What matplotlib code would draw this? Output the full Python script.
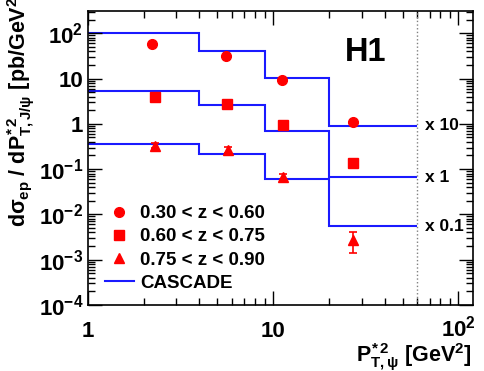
import numpy as np
import matplotlib
matplotlib.use('Agg')
import matplotlib.pyplot as plt
from matplotlib.ticker import FixedLocator, LogLocator, FuncFormatter, NullFormatter

plt.rcParams['font.family'] = ['Liberation Sans', 'DejaVu Sans']
plt.rcParams['font.weight'] = 'bold'
plt.rcParams['mathtext.fontset'] = 'custom'
plt.rcParams['mathtext.rm'] = 'Liberation Sans:bold'
plt.rcParams['mathtext.it'] = 'Liberation Sans:bold'
plt.rcParams['mathtext.bf'] = 'Liberation Sans:bold'

# bin edges of the CASCADE histograms
edges = [1, 4, 9, 20, 60]
# CASCADE predictions (already scaled by x10, x1, x0.1)
casc_1 = [100, 40, 10.2, 0.9]
casc_2 = [5.4, 2.6, 0.71, 0.067]
casc_3 = [0.366, 0.22, 0.061, 0.0055]

# data points
x_1 = [2.22, 5.54, 11.2, 27.1]
y_1 = [57, 31.6, 9.3, 1.1]
x_2 = [2.29, 5.6, 11.3, 27.1]
y_2 = [3.9, 2.8, 0.95, 0.135]
x_3 = [2.31, 5.68, 11.3, 27.1]
y_3 = [0.33, 0.265, 0.068, 0.0027]
e3_lo = [0.04, 0.035, 0.01, 0.00131]
e3_hi = [0.05, 0.04, 0.012, 0.0014]

labels = ['0.30 < z < 0.60', '0.60 < z < 0.75', '0.75 < z < 0.90']
scales = ['x 10', 'x 1', 'x 0.1']

fig = plt.figure(figsize=(4.85, 3.71), dpi=100)
ax = fig.add_axes([88 / 485, 66 / 371, 385 / 485, 294 / 371])

for c in (casc_1, casc_2, casc_3):
    ax.stairs(c, edges, color='#1a1aff', lw=1.5, baseline=None)

ax.plot(x_1, y_1, 'o', color='red', ms=7, ls='')
ax.plot(x_2, y_2, 's', color='red', ms=7, ls='')
ax.errorbar(x_3, y_3, yerr=[e3_lo, e3_hi], fmt='^', color='red', ms=7,
            capsize=3, elinewidth=1.2, capthick=1.2)

ax.axvline(60, color='grey', ls=':', lw=1)

for txt, c in zip(scales, (casc_1, casc_2, casc_3)):
    ax.text(66, c[-1], txt, fontsize=12.5, fontweight='bold', va='center', ha='left')

ax.text(0.666, 0.858, 'H1', transform=ax.transAxes, fontsize=23.5, fontweight='bold',
        ha='left', va='center')

# legend
h1, = ax.plot([], [], 'o', color='red', ms=7)
h2, = ax.plot([], [], 's', color='red', ms=7)
h3, = ax.plot([], [], '^', color='red', ms=7)
h4, = ax.plot([], [], '-', color='#1a1aff', lw=1.5)
ax.legend([h1, h2, h3, h4], labels + ['CASCADE'], loc='lower left',
          bbox_to_anchor=(0.0, -0.012), frameon=False,
          handlelength=1.55, handletextpad=0.35, labelspacing=0.32,
          prop={'weight': 'bold', 'size': 13.5})

ax.set_xscale('log')
ax.set_yscale('log')
ax.set_xlim(1, 120)
ax.set_ylim(1e-4, 310)


def fmt(v, pos):
    e = int(round(np.log10(v)))
    if e == 0:
        return '1'
    if e == 1:
        return '10'
    return r'$10^{%d}$' % e


ax.xaxis.set_major_locator(FixedLocator([1, 10, 100]))
ax.yaxis.set_major_locator(FixedLocator([1e-4, 1e-3, 1e-2, 1e-1, 1, 10, 100]))
ax.xaxis.set_minor_locator(LogLocator(subs=np.arange(2, 10), numticks=20))
ax.yaxis.set_minor_locator(LogLocator(subs=np.arange(2, 10), numticks=20))
ax.xaxis.set_major_formatter(FuncFormatter(fmt))
ax.yaxis.set_major_formatter(FuncFormatter(fmt))
ax.xaxis.set_minor_formatter(NullFormatter())
ax.yaxis.set_minor_formatter(NullFormatter())
ax.tick_params(which='both', direction='in', top=True, right=True, labelsize=16)
ax.tick_params(which='major', length=10, width=1)
ax.tick_params(which='minor', length=5, width=1)
ax.tick_params(axis='x', pad=23)
for lab in ax.get_xticklabels():
    lab.set_verticalalignment('baseline')
for s in ax.spines.values():
    s.set_linewidth(1.2)

fig.text(472 / 485, 9 / 371, r'$P^{*\,2}_{T,\psi}$ [GeV$^{2}$]', fontsize=15.5,
         fontweight='bold', ha='right', va='baseline')
fig.text(21 / 485, 1 - 227 / 371,
         r'd$\sigma_{ep}$ / d$P^{*\,2}_{T,J/\psi}$ [pb/GeV$^{2}$]',
         fontsize=15.5, fontweight='bold', rotation=90, ha='center', va='bottom')

fig.savefig('out.png', dpi=100)
